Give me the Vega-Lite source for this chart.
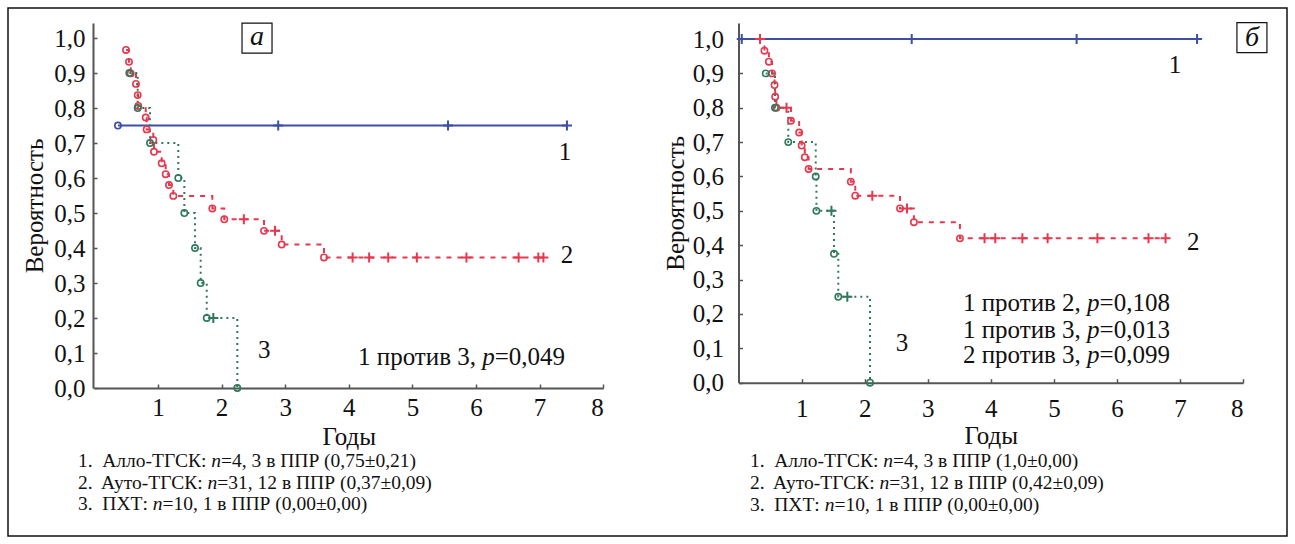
{
  "$schema": "https://vega.github.io/schema/vega-lite/v6.json",
  "width": 1279,
  "height": 528,
  "padding": 8,
  "autosize": {"type": "none"},
  "background": "white",
  "config": {
    "view": {"stroke": "#111", "strokeWidth": 1.5},
    "font": "Liberation Serif",
    "text": {"font": "Liberation Serif", "color": "#111"},
    "axis": {
      "grid": false,
      "domainColor": "#555",
      "domainWidth": 2,
      "tickColor": "#555",
      "tickSize": -4,
      "tickWidth": 1.5,
      "labelFont": "Liberation Serif",
      "labelFontSize": 25,
      "labelColor": "#111",
      "titleFont": "Liberation Serif",
      "titleFontSize": 25,
      "titleFontWeight": "normal",
      "titleColor": "#111"
    }
  },
  "datasets": {
    "km": [
      {"panel": "a", "group": "1", "t": 0.37, "s": 0.75, "kind": "e"},
      {"panel": "a", "group": "1", "t": 2.89, "s": 0.75, "kind": "c"},
      {"panel": "a", "group": "1", "t": 5.56, "s": 0.75, "kind": "c"},
      {"panel": "a", "group": "1", "t": 7.43, "s": 0.75, "kind": "c"},
      {"panel": "a", "group": "2", "t": 0.497, "s": 0.966, "kind": "e"},
      {"panel": "a", "group": "2", "t": 0.544, "s": 0.932, "kind": "e"},
      {"panel": "a", "group": "2", "t": 0.571, "s": 0.899, "kind": "e"},
      {"panel": "a", "group": "2", "t": 0.654, "s": 0.869, "kind": "e"},
      {"panel": "a", "group": "2", "t": 0.681, "s": 0.837, "kind": "e"},
      {"panel": "a", "group": "2", "t": 0.69, "s": 0.806, "kind": "e"},
      {"panel": "a", "group": "2", "t": 0.807, "s": 0.773, "kind": "e"},
      {"panel": "a", "group": "2", "t": 0.822, "s": 0.739, "kind": "e"},
      {"panel": "a", "group": "2", "t": 0.926, "s": 0.709, "kind": "e"},
      {"panel": "a", "group": "2", "t": 0.937, "s": 0.675, "kind": "e"},
      {"panel": "a", "group": "2", "t": 1.058, "s": 0.642, "kind": "e"},
      {"panel": "a", "group": "2", "t": 1.121, "s": 0.611, "kind": "e"},
      {"panel": "a", "group": "2", "t": 1.173, "s": 0.58, "kind": "e"},
      {"panel": "a", "group": "2", "t": 1.241, "s": 0.549, "kind": "e"},
      {"panel": "a", "group": "2", "t": 1.854, "s": 0.513, "kind": "e"},
      {"panel": "a", "group": "2", "t": 2.042, "s": 0.482, "kind": "e"},
      {"panel": "a", "group": "2", "t": 2.35, "s": 0.482, "kind": "c"},
      {"panel": "a", "group": "2", "t": 2.667, "s": 0.449, "kind": "e"},
      {"panel": "a", "group": "2", "t": 2.84, "s": 0.449, "kind": "c"},
      {"panel": "a", "group": "2", "t": 2.945, "s": 0.41, "kind": "e"},
      {"panel": "a", "group": "2", "t": 3.61, "s": 0.373, "kind": "e"},
      {"panel": "a", "group": "2", "t": 4.06, "s": 0.373, "kind": "c"},
      {"panel": "a", "group": "2", "t": 4.32, "s": 0.373, "kind": "c"},
      {"panel": "a", "group": "2", "t": 4.62, "s": 0.373, "kind": "c"},
      {"panel": "a", "group": "2", "t": 5.07, "s": 0.373, "kind": "c"},
      {"panel": "a", "group": "2", "t": 5.85, "s": 0.373, "kind": "c"},
      {"panel": "a", "group": "2", "t": 6.67, "s": 0.373, "kind": "c"},
      {"panel": "a", "group": "2", "t": 6.98, "s": 0.373, "kind": "c"},
      {"panel": "a", "group": "2", "t": 7.06, "s": 0.373, "kind": "c"},
      {"panel": "a", "group": "3", "t": 0.549, "s": 0.9, "kind": "e"},
      {"panel": "a", "group": "3", "t": 0.681, "s": 0.8, "kind": "e"},
      {"panel": "a", "group": "3", "t": 0.874, "s": 0.7, "kind": "e"},
      {"panel": "a", "group": "3", "t": 1.319, "s": 0.6, "kind": "e"},
      {"panel": "a", "group": "3", "t": 1.414, "s": 0.5, "kind": "e"},
      {"panel": "a", "group": "3", "t": 1.582, "s": 0.4, "kind": "e"},
      {"panel": "a", "group": "3", "t": 1.671, "s": 0.3, "kind": "e"},
      {"panel": "a", "group": "3", "t": 1.766, "s": 0.2, "kind": "e"},
      {"panel": "a", "group": "3", "t": 1.87, "s": 0.2, "kind": "c"},
      {"panel": "a", "group": "3", "t": 2.247, "s": 0.0, "kind": "e"},
      {"panel": "b", "group": "1", "t": 0.05, "s": 1.0, "kind": "c"},
      {"panel": "b", "group": "1", "t": 2.745, "s": 1.0, "kind": "c"},
      {"panel": "b", "group": "1", "t": 5.36, "s": 1.0, "kind": "c"},
      {"panel": "b", "group": "1", "t": 7.27, "s": 1.0, "kind": "c"},
      {"panel": "b", "group": "2", "t": 0.34, "s": 1.0, "kind": "c"},
      {"panel": "b", "group": "2", "t": 0.41, "s": 0.966, "kind": "e"},
      {"panel": "b", "group": "2", "t": 0.48, "s": 0.934, "kind": "e"},
      {"panel": "b", "group": "2", "t": 0.53, "s": 0.9, "kind": "e"},
      {"panel": "b", "group": "2", "t": 0.57, "s": 0.866, "kind": "e"},
      {"panel": "b", "group": "2", "t": 0.58, "s": 0.832, "kind": "e"},
      {"panel": "b", "group": "2", "t": 0.6, "s": 0.8, "kind": "e"},
      {"panel": "b", "group": "2", "t": 0.76, "s": 0.8, "kind": "c"},
      {"panel": "b", "group": "2", "t": 0.83, "s": 0.762, "kind": "e"},
      {"panel": "b", "group": "2", "t": 0.96, "s": 0.728, "kind": "e"},
      {"panel": "b", "group": "2", "t": 1.0, "s": 0.69, "kind": "e"},
      {"panel": "b", "group": "2", "t": 1.05, "s": 0.656, "kind": "e"},
      {"panel": "b", "group": "2", "t": 1.11, "s": 0.622, "kind": "e"},
      {"panel": "b", "group": "2", "t": 1.78, "s": 0.585, "kind": "e"},
      {"panel": "b", "group": "2", "t": 1.85, "s": 0.544, "kind": "e"},
      {"panel": "b", "group": "2", "t": 2.12, "s": 0.544, "kind": "c"},
      {"panel": "b", "group": "2", "t": 2.56, "s": 0.507, "kind": "e"},
      {"panel": "b", "group": "2", "t": 2.67, "s": 0.507, "kind": "c"},
      {"panel": "b", "group": "2", "t": 2.78, "s": 0.467, "kind": "e"},
      {"panel": "b", "group": "2", "t": 3.51, "s": 0.42, "kind": "e"},
      {"panel": "b", "group": "2", "t": 3.9, "s": 0.42, "kind": "c"},
      {"panel": "b", "group": "2", "t": 4.07, "s": 0.42, "kind": "c"},
      {"panel": "b", "group": "2", "t": 4.5, "s": 0.42, "kind": "c"},
      {"panel": "b", "group": "2", "t": 4.9, "s": 0.42, "kind": "c"},
      {"panel": "b", "group": "2", "t": 5.69, "s": 0.42, "kind": "c"},
      {"panel": "b", "group": "2", "t": 6.5, "s": 0.42, "kind": "c"},
      {"panel": "b", "group": "2", "t": 6.77, "s": 0.42, "kind": "c"},
      {"panel": "b", "group": "3", "t": 0.43, "s": 0.9, "kind": "e"},
      {"panel": "b", "group": "3", "t": 0.577, "s": 0.8, "kind": "e"},
      {"panel": "b", "group": "3", "t": 0.788, "s": 0.7, "kind": "e"},
      {"panel": "b", "group": "3", "t": 1.223, "s": 0.6, "kind": "e"},
      {"panel": "b", "group": "3", "t": 1.234, "s": 0.5, "kind": "e"},
      {"panel": "b", "group": "3", "t": 1.472, "s": 0.5, "kind": "c"},
      {"panel": "b", "group": "3", "t": 1.513, "s": 0.375, "kind": "e"},
      {"panel": "b", "group": "3", "t": 1.581, "s": 0.25, "kind": "e"},
      {"panel": "b", "group": "3", "t": 1.724, "s": 0.25, "kind": "c"},
      {"panel": "b", "group": "3", "t": 2.084, "s": 0.0, "kind": "e"}
    ]
  },
  "layer": [
    {
      "data": {"name": "km"},
      "transform": [{"filter": "datum.panel === 'a'"}],
      "encoding": {
        "x": {
          "field": "t", "type": "quantitative",
          "scale": {"domain": [0, 8], "range": [86.4, 595.2], "nice": false, "zero": false},
          "axis": {"orient": "bottom", "offset": -148, "values": [1, 2, 3, 4, 5, 6, 7, 8], "title": "Годы", "labelFont": "Liberation Serif", "titleFont": "Liberation Serif", "labelPadding": 11.5, "titlePadding": 3.5}
        },
        "y": {
          "field": "s", "type": "quantitative",
          "scale": {"domain": [0, 1.043], "range": [380, 15], "nice": false, "zero": false},
          "axis": {"orient": "left", "offset": -85, "values": [0, 0.1, 0.2, 0.3, 0.4, 0.5, 0.6, 0.7, 0.8, 0.9, 1.0], "labelExpr": "replace(format(datum.value, '.1f'), '.', ',')", "title": "Вероятность", "labelFont": "Liberation Serif", "titleFont": "Liberation Serif", "labelPadding": 12, "titlePadding": 6}
        }
      },
      "layer": [
        {
          "mark": {"type": "line", "interpolate": "step-after", "strokeWidth": 2},
          "encoding": {
            "color": {"field": "group", "type": "nominal", "scale": {"domain": ["1", "2", "3"], "range": ["#3d4fa3", "#e6394f", "#2f7a5c"]}, "legend": null},
            "strokeDash": {"field": "group", "type": "nominal", "scale": {"domain": ["1", "2", "3"], "range": [[1, 0], [5, 6], [2, 4]]}, "legend": null}
          }
        },
        {
          "transform": [{"filter": "datum.kind === 'e'"}],
          "mark": {"type": "point", "shape": "circle", "filled": false, "size": 40, "strokeWidth": 1.6, "opacity": 1},
          "encoding": {"color": {"field": "group", "type": "nominal", "legend": null}}
        },
        {
          "transform": [{"filter": "datum.kind === 'c'"}],
          "mark": {"type": "point", "shape": "M-1,0L1,0M0,-1L0,1", "filled": false, "size": 100, "strokeWidth": 2, "opacity": 1},
          "encoding": {"color": {"field": "group", "type": "nominal", "legend": null}}
        },
        {
          "data": {"values": [{"bx": 2.557, "by": 1.0, "lab": "а"}]},
          "mark": {"type": "point", "shape": "square", "filled": false, "size": 900, "stroke": "#111", "strokeWidth": 1.2, "opacity": 1},
          "encoding": {"x": {"field": "bx", "type": "quantitative"}, "y": {"field": "by", "type": "quantitative"}}
        },
        {
          "data": {"values": [{"bx": 2.557, "by": 1.0, "lab": "а"}]},
          "mark": {"type": "text", "font": "Liberation Serif", "fontSize": 28, "fontStyle": "italic", "align": "center", "baseline": "middle", "dy": -1, "color": "#111"},
          "encoding": {"x": {"field": "bx", "type": "quantitative"}, "y": {"field": "by", "type": "quantitative"}, "text": {"field": "lab"}}
        },
        {
          "data": {"values": [{"lab": "1", "tx": 7.4, "ty": 0.674}, {"lab": "2", "tx": 7.43, "ty": 0.38}, {"lab": "3", "tx": 2.67, "ty": 0.109}]},
          "mark": {"type": "text", "font": "Liberation Serif", "fontSize": 25, "align": "center", "baseline": "middle", "color": "#111"},
          "encoding": {"x": {"field": "tx", "type": "quantitative"}, "y": {"field": "ty", "type": "quantitative"}, "text": {"field": "lab"}}
        },
        {
          "data": {"values": [
            {"lab": "1 против 3,", "tx": 5.9992, "ty": 0.0894},
            {"lab": "=0,049", "tx": 7.4, "ty": 0.0894}
          ]},
          "mark": {"type": "text", "font": "Liberation Serif", "fontSize": 25, "align": "right", "baseline": "middle", "color": "#111"},
          "encoding": {"x": {"field": "tx", "type": "quantitative"}, "y": {"field": "ty", "type": "quantitative"}, "text": {"field": "lab"}}
        },
        {
          "data": {"values": [{"lab": "p", "tx": 6.294, "ty": 0.0894}]},
          "mark": {"type": "text", "font": "Liberation Serif", "fontSize": 25, "fontStyle": "italic", "align": "right", "baseline": "middle", "color": "#111"},
          "encoding": {"x": {"field": "tx", "type": "quantitative"}, "y": {"field": "ty", "type": "quantitative"}, "text": {"field": "lab"}}
        },
        {
          "data": {"values": [
            {"lab": "1.", "tx": -0.258, "ty": -0.21},
            {"lab": "2.", "tx": -0.258, "ty": -0.2714},
            {"lab": "3.", "tx": -0.258, "ty": -0.3329},
            {"lab": "=4, 3 в ППР (0,75±0,21)", "tx": 1.9908, "ty": -0.21},
            {"lab": "=31, 12 в ППР (0,37±0,09)", "tx": 1.9329, "ty": -0.2714},
            {"lab": "=10, 1 в ППР (0,00±0,00)", "tx": 1.0698, "ty": -0.3329}
          ]},
          "mark": {"type": "text", "font": "Liberation Serif", "fontSize": 19.5, "align": "left", "baseline": "middle", "color": "#111"},
          "encoding": {"x": {"field": "tx", "type": "quantitative"}, "y": {"field": "ty", "type": "quantitative"}, "text": {"field": "lab"}}
        },
        {
          "data": {"values": [
            {"lab": "Алло-ТГСК:", "tx": 1.7608, "ty": -0.21},
            {"lab": "Ауто-ТГСК:", "tx": 1.7029, "ty": -0.2714},
            {"lab": "ПХТ:", "tx": 0.8398, "ty": -0.3329}
          ]},
          "mark": {"type": "text", "font": "Liberation Serif", "fontSize": 19.5, "align": "right", "baseline": "middle", "color": "#111"},
          "encoding": {"x": {"field": "tx", "type": "quantitative"}, "y": {"field": "ty", "type": "quantitative"}, "text": {"field": "lab"}}
        },
        {
          "data": {"values": [
            {"lab": "n", "tx": 1.8375, "ty": -0.21},
            {"lab": "n", "tx": 1.7796, "ty": -0.2714},
            {"lab": "n", "tx": 0.9165, "ty": -0.3329}
          ]},
          "mark": {"type": "text", "font": "Liberation Serif", "fontSize": 19.5, "fontStyle": "italic", "align": "left", "baseline": "middle", "color": "#111"},
          "encoding": {"x": {"field": "tx", "type": "quantitative"}, "y": {"field": "ty", "type": "quantitative"}, "text": {"field": "lab"}}
        }
      ]
    },
    {
      "data": {"name": "km"},
      "transform": [{"filter": "datum.panel === 'b'"}],
      "encoding": {
        "x": {
          "field": "t", "type": "quantitative",
          "scale": {"domain": [0, 8], "range": [730.6, 1235.1], "nice": false, "zero": false},
          "axis": {"orient": "bottom", "offset": -153.3, "values": [1, 2, 3, 4, 5, 6, 7, 8], "title": "Годы", "labelFont": "Liberation Serif", "titleFont": "Liberation Serif", "labelPadding": 17.5, "titlePadding": 2.5}
        },
        "y": {
          "field": "s", "type": "quantitative",
          "scale": {"domain": [0, 1.0466], "range": [374.7, 15], "nice": false, "zero": false},
          "axis": {"orient": "left", "offset": -730.5, "values": [0, 0.1, 0.2, 0.3, 0.4, 0.5, 0.6, 0.7, 0.8, 0.9, 1.0], "labelExpr": "replace(format(datum.value, '.1f'), '.', ',')", "title": "Вероятность", "labelFont": "Liberation Serif", "titleFont": "Liberation Serif", "labelPadding": 19, "titlePadding": 4}
        }
      },
      "layer": [
        {
          "mark": {"type": "line", "interpolate": "step-after", "strokeWidth": 2},
          "encoding": {
            "color": {"field": "group", "type": "nominal", "legend": null},
            "strokeDash": {"field": "group", "type": "nominal", "legend": null}
          }
        },
        {
          "transform": [{"filter": "datum.kind === 'e'"}],
          "mark": {"type": "point", "shape": "circle", "filled": false, "size": 40, "strokeWidth": 1.6, "opacity": 1},
          "encoding": {"color": {"field": "group", "type": "nominal", "legend": null}}
        },
        {
          "transform": [{"filter": "datum.kind === 'c'"}],
          "mark": {"type": "point", "shape": "M-1,0L1,0M0,-1L0,1", "filled": false, "size": 100, "strokeWidth": 2, "opacity": 1},
          "encoding": {"color": {"field": "group", "type": "nominal", "legend": null}}
        },
        {
          "data": {"values": [{"bx": 8.14, "by": 1.004, "lab": "б"}]},
          "mark": {"type": "point", "shape": "square", "filled": false, "size": 900, "stroke": "#111", "strokeWidth": 1.2, "opacity": 1},
          "encoding": {"x": {"field": "bx", "type": "quantitative"}, "y": {"field": "by", "type": "quantitative"}}
        },
        {
          "data": {"values": [{"bx": 8.14, "by": 1.004, "lab": "б"}]},
          "mark": {"type": "text", "font": "Liberation Serif", "fontSize": 28, "fontStyle": "italic", "align": "center", "baseline": "middle", "color": "#111"},
          "encoding": {"x": {"field": "bx", "type": "quantitative"}, "y": {"field": "by", "type": "quantitative"}, "text": {"field": "lab"}}
        },
        {
          "data": {"values": [{"lab": "1", "tx": 6.92, "ty": 0.924}, {"lab": "2", "tx": 7.21, "ty": 0.41}, {"lab": "3", "tx": 2.59, "ty": 0.115}]},
          "mark": {"type": "text", "font": "Liberation Serif", "fontSize": 25, "align": "center", "baseline": "middle", "color": "#111"},
          "encoding": {"x": {"field": "tx", "type": "quantitative"}, "y": {"field": "ty", "type": "quantitative"}, "text": {"field": "lab"}}
        },
        {
          "data": {"values": [
            {"lab": "1 против 2,", "tx": 5.4271, "ty": 0.231},
            {"lab": "=0,108", "tx": 6.84, "ty": 0.231},
            {"lab": "1 против 3,", "tx": 5.4271, "ty": 0.1533},
            {"lab": "=0,013", "tx": 6.84, "ty": 0.1533},
            {"lab": "2 против 3,", "tx": 5.4271, "ty": 0.0806},
            {"lab": "=0,099", "tx": 6.84, "ty": 0.0806}
          ]},
          "mark": {"type": "text", "font": "Liberation Serif", "fontSize": 25, "align": "right", "baseline": "middle", "color": "#111"},
          "encoding": {"x": {"field": "tx", "type": "quantitative"}, "y": {"field": "ty", "type": "quantitative"}, "text": {"field": "lab"}}
        },
        {
          "data": {"values": [
            {"lab": "p", "tx": 5.7244, "ty": 0.231},
            {"lab": "p", "tx": 5.7244, "ty": 0.1533},
            {"lab": "p", "tx": 5.7244, "ty": 0.0806}
          ]},
          "mark": {"type": "text", "font": "Liberation Serif", "fontSize": 25, "fontStyle": "italic", "align": "right", "baseline": "middle", "color": "#111"},
          "encoding": {"x": {"field": "tx", "type": "quantitative"}, "y": {"field": "ty", "type": "quantitative"}, "text": {"field": "lab"}}
        },
        {
          "data": {"values": [
            {"lab": "1.", "tx": 0.18, "ty": -0.2292},
            {"lab": "2.", "tx": 0.18, "ty": -0.2918},
            {"lab": "3.", "tx": 0.18, "ty": -0.3544},
            {"lab": "=4, 3 в ППР (1,0±0,00)", "tx": 2.4482, "ty": -0.2292},
            {"lab": "=31, 12 в ППР (0,42±0,09)", "tx": 2.3902, "ty": -0.2918},
            {"lab": "=10, 1 в ППР (0,00±0,00)", "tx": 1.5192, "ty": -0.3544}
          ]},
          "mark": {"type": "text", "font": "Liberation Serif", "fontSize": 19.5, "align": "left", "baseline": "middle", "color": "#111"},
          "encoding": {"x": {"field": "tx", "type": "quantitative"}, "y": {"field": "ty", "type": "quantitative"}, "text": {"field": "lab"}}
        },
        {
          "data": {"values": [
            {"lab": "Алло-ТГСК:", "tx": 2.2163, "ty": -0.2292},
            {"lab": "Ауто-ТГСК:", "tx": 2.1583, "ty": -0.2918},
            {"lab": "ПХТ:", "tx": 1.2873, "ty": -0.3544}
          ]},
          "mark": {"type": "text", "font": "Liberation Serif", "fontSize": 19.5, "align": "right", "baseline": "middle", "color": "#111"},
          "encoding": {"x": {"field": "tx", "type": "quantitative"}, "y": {"field": "ty", "type": "quantitative"}, "text": {"field": "lab"}}
        },
        {
          "data": {"values": [
            {"lab": "n", "tx": 2.2936, "ty": -0.2292},
            {"lab": "n", "tx": 2.2356, "ty": -0.2918},
            {"lab": "n", "tx": 1.3646, "ty": -0.3544}
          ]},
          "mark": {"type": "text", "font": "Liberation Serif", "fontSize": 19.5, "fontStyle": "italic", "align": "left", "baseline": "middle", "color": "#111"},
          "encoding": {"x": {"field": "tx", "type": "quantitative"}, "y": {"field": "ty", "type": "quantitative"}, "text": {"field": "lab"}}
        }
      ]
    }
  ],
  "resolve": {
    "scale": {"x": "independent", "y": "independent"},
    "axis": {"x": "independent", "y": "independent"}
  }
}
